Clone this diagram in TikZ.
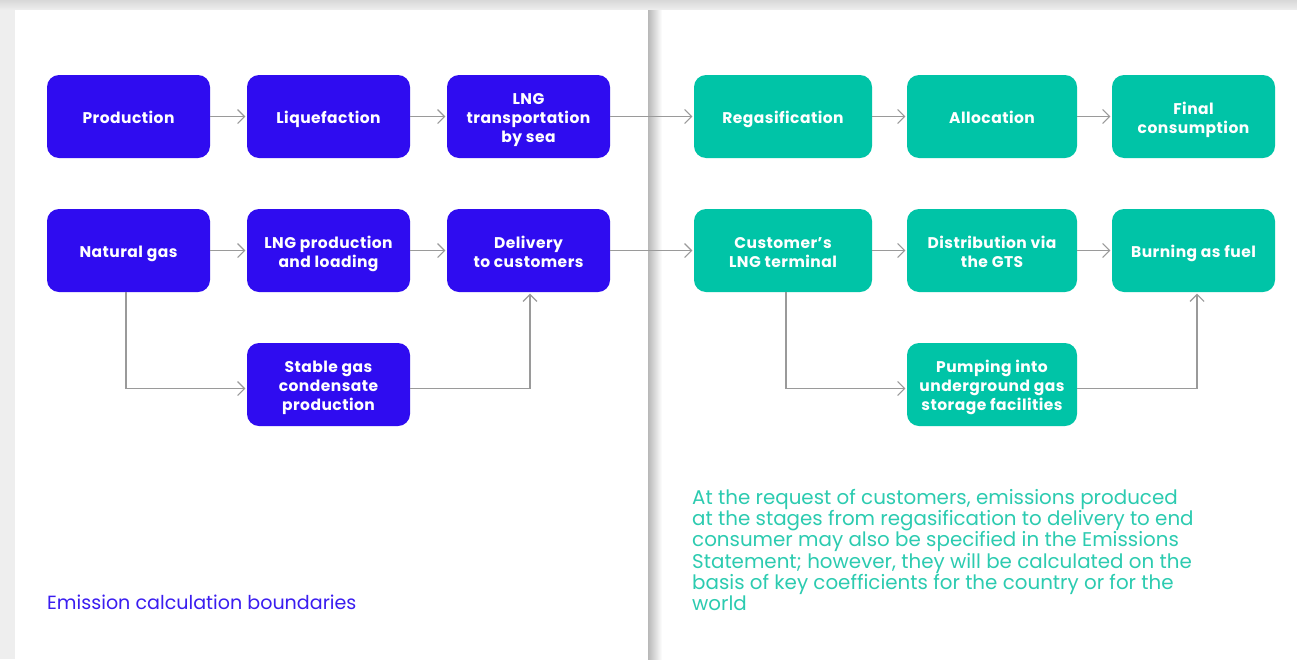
\documentclass[tikz,border=0pt]{standalone}
\usepackage{fontspec}
\setmainfont{Poppins}
\usetikzlibrary{arrows.meta,positioning}
\definecolor{bblue}{HTML}{2F0CF0}
\definecolor{bteal}{HTML}{00C4A7}
\definecolor{tblue}{HTML}{3A1DF0}
\definecolor{tteal}{HTML}{2CCBB0}
\definecolor{cgray}{HTML}{9A9A9A}
\definecolor{bggray}{HTML}{EEEEEE}
\tikzset{
  box/.style={rounded corners=12pt, minimum height=83pt, text=white,
    font=\fontsize{15.5}{19}\selectfont\bfseries\addfontfeatures{LetterSpace=3},
    align=center, inner sep=0pt, text height=17pt, text depth=3pt},
  two/.style={text height=36pt},
  three/.style={text height=55pt},
  bluebox/.style={box, fill=bblue},
  tealbox/.style={box, fill=bteal},
  conn/.style={draw=cgray, line width=1.1pt, -{Straight Barb[length=7pt,width=14pt,line width=1.1pt]}, shorten >=1.5pt},
}
\begin{document}
\begin{tikzpicture}[x=1pt,y=-1pt]
\useasboundingbox (0,0) rectangle (1297,659);
\fill[bggray] (0,0) rectangle (1297,659);
\shade[top color=bggray!80!gray, bottom color=bggray] (0,0) rectangle (1297,10);
\fill[white] (15,10) rectangle (648,659);
\fill[white] (648,10) rectangle (1297,659);
\shade[left color=black!28, right color=white] (648,10) rectangle (662,659);
% boxes
\node[bluebox, minimum width=163pt] (prod) at (128.5,116.5) {Production};
\node[bluebox, minimum width=163pt] (liq) at (328.5,116.5) {Liquefaction};
\node[bluebox, three, minimum width=163pt] (sea) at (528.5,116.5) {LNG\\transportation\\by sea};
\node[tealbox, minimum width=178pt] (regas) at (783,116.5) {Regasification};
\node[tealbox, minimum width=170pt] (alloc) at (992,116.5) {Allocation};
\node[tealbox, two, minimum width=163pt] (final) at (1193.5,116.5) {Final\\consumption};
\node[bluebox, minimum width=163pt] (ng) at (128.5,250.5) {Natural gas};
\node[bluebox, two, minimum width=163pt] (lngp) at (328.5,250.5) {LNG production\\and loading};
\node[bluebox, two, minimum width=163pt] (deliv) at (528.5,250.5) {Delivery\\to customers};
\node[tealbox, two, minimum width=178pt] (cust) at (783,250.5) {Customer’s\\LNG terminal};
\node[tealbox, two, minimum width=170pt] (dist) at (992,250.5) {Distribution via\\the GTS};
\node[tealbox, minimum width=163pt] (burn) at (1193.5,250.5) {Burning as fuel};
\node[bluebox, three, minimum width=163pt] (stable) at (328.5,384.5) {Stable gas\\condensate\\production};
\node[tealbox, three, minimum width=170pt] (pump) at (992,384.5) {Pumping into\\underground gas\\storage facilities};
% connectors
\draw[conn] (prod) -- (liq);
\draw[conn] (liq) -- (sea);
\draw[conn] (sea) -- (regas);
\draw[conn] (regas) -- (alloc);
\draw[conn] (alloc) -- (final);
\draw[conn] (ng) -- (lngp);
\draw[conn] (lngp) -- (deliv);
\draw[conn] (deliv) -- (cust);
\draw[conn] (cust) -- (dist);
\draw[conn] (dist) -- (burn);
\draw[conn] ([xshift=-2.5pt]ng.south) |- ([yshift=-4pt]stable.west);
\draw[conn] ([yshift=-4pt]stable.east) -| ([xshift=1.5pt]deliv.south);
\draw[conn] ([xshift=3pt]cust.south) |- ([yshift=-4pt]pump.west);
\draw[conn] ([yshift=-4pt]pump.east) -| ([xshift=3.5pt]burn.south);
% texts
\node[anchor=base west, text=tblue, font=\fontsize{19.1}{21}\selectfont, inner sep=0pt] (lbl) at (47,609) {Emission calculation boundaries};
\node[anchor=north west, text=tteal, font=\fontsize{19.85}{21.3}\selectfont, align=left, inner sep=0pt] (note) at (692,489) {At the request of customers, emissions produced\\at the stages from regasification to delivery to end\\consumer may also be specified in the Emissions\\Statement; however, they will be calculated on the\\basis of key coefficients for the country or for the\\world};
\end{tikzpicture}
\end{document}
